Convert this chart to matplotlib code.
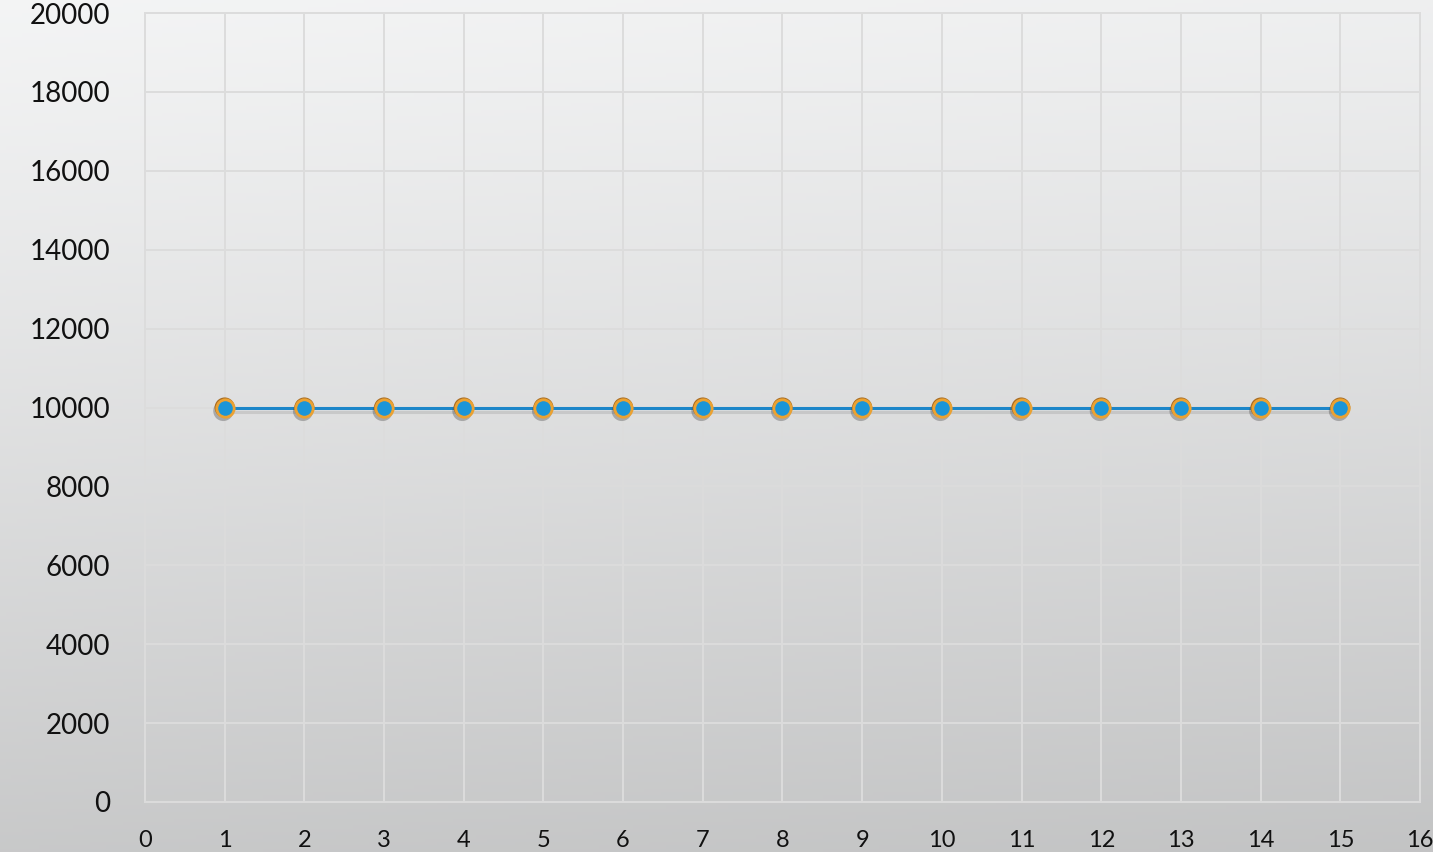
import matplotlib.pyplot as plt
import matplotlib.patheffects as pe
import numpy as np

# series values
x_values = [1, 2, 3, 4, 5, 6, 7, 8, 9, 10, 11, 12, 13, 14, 15]
y_values = [10000] * 15
x_ticks = list(range(0, 17))
y_ticks = list(range(0, 20001, 2000))

plt.rcParams["font.family"] = ["Lato", "DejaVu Sans"]

fig = plt.figure(figsize=(14.33, 8.52), dpi=100)

# gray gradient backdrop over the whole figure
bg = fig.add_axes([0, 0, 1, 1], zorder=-10)
rows = np.linspace(0, 1, 256)[:, None]
cols = np.linspace(0, 1, 256)[None, :]
shade = 0.955 - 0.17 * rows ** 1.1 - 0.02 * cols
bg.imshow(np.dstack([shade, shade + 0.003, shade + 0.005]).clip(0, 1),
          aspect="auto", extent=[0, 1, 0, 1], origin="upper")
bg.set_axis_off()

ax = fig.add_axes([0.1012, 0.0587, 0.8897, 0.926])
ax.patch.set_alpha(0)
grid_color = "#dcdcdc"
ax.grid(True, color=grid_color, linewidth=1.4)
for side in ax.spines.values():
    side.set_color(grid_color)
    side.set_linewidth(1.4)

ax.plot(x_values, y_values, color="#1c86c9", linewidth=2.2, zorder=3,
        path_effects=[pe.SimpleLineShadow(offset=(0, -3), shadow_color="#888888", alpha=0.25),
                      pe.Normal()])
# darker rim under the orange ring
ax.plot(x_values, y_values, linestyle="none", marker="o", markersize=14.5,
        markerfacecolor="#a86c22", markeredgecolor="#a86c22", markeredgewidth=0,
        zorder=4,
        path_effects=[pe.SimplePatchShadow(offset=(-1.0, -2.5), shadow_rgbFace="#444444", alpha=0.35),
                      pe.Normal()])
ax.plot(x_values, y_values, linestyle="none", marker="o", markersize=12.5,
        markerfacecolor="#1a95d8", markeredgecolor="#eba232", markeredgewidth=2.0,
        zorder=5)

ax.set_xlim(0, 16)
ax.set_ylim(0, 20000)
ax.set_xticks(x_ticks)
ax.set_yticks(y_ticks)
ax.tick_params(axis="x", length=0, pad=20, labelsize=17, labelcolor="#111111")
ax.tick_params(axis="y", length=0, pad=25, labelsize=20, labelcolor="#111111")

fig.savefig("out.png", dpi=100)
